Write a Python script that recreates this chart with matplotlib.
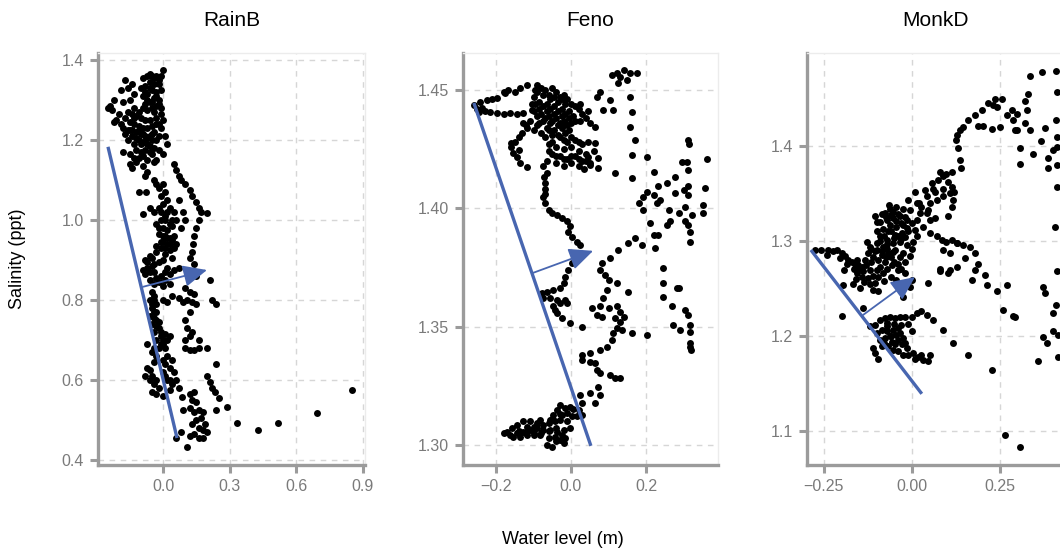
import matplotlib
matplotlib.use("Agg")
import matplotlib.pyplot as plt

plt.rcParams['font.family'] = ['Liberation Sans', 'DejaVu Sans']

# ---------------- data ----------------
panel_titles = ["RainB", "Feno", "MonkD"]

rainb_x_ticks = [0.0, 0.3, 0.6, 0.9]
rainb_x_labels = ["0.0", "0.3", "0.6", "0.9"]
rainb_y_ticks = [0.4, 0.6, 0.8, 1.0, 1.2, 1.4]
rainb_y_labels = ["0.4", "0.6", "0.8", "1.0", "1.2", "1.4"]

feno_x_ticks = [-0.2, 0.0, 0.2]
feno_x_labels = ["\u22120.2", "0.0", "0.2"]
feno_y_ticks = [1.30, 1.35, 1.40, 1.45]
feno_y_labels = ["1.30", "1.35", "1.40", "1.45"]

monkd_x_ticks = [-0.25, 0.0, 0.25]
monkd_x_labels = ["\u22120.25", "0.00", "0.25"]
monkd_y_ticks = [1.1, 1.2, 1.3, 1.4]
monkd_y_labels = ["1.1", "1.2", "1.3", "1.4"]

rainb_points = [
    (0.0,1.375),(-0.01,1.36),(-0.02,1.35),(-0.03,1.36),(-0.05,1.36),(-0.07,1.36),(-0.09,1.355),(-0.06,1.345),
    (-0.04,1.34),(-0.08,1.335),(-0.1,1.33),(-0.05,1.325),(-0.03,1.32),(-0.07,1.315),(-0.09,1.31),(-0.04,1.305),
    (-0.02,1.30),(-0.06,1.295),(-0.08,1.29),(-0.03,1.285),(-0.05,1.28),(-0.01,1.28),(-0.07,1.275),(-0.04,1.27),
    (-0.17,1.35),(-0.16,1.33),(-0.14,1.34),(-0.19,1.325),(-0.13,1.315),(-0.15,1.30),(-0.18,1.295),(-0.22,1.30),
    (-0.24,1.285),(-0.25,1.28),(-0.23,1.275),(-0.2,1.265),(-0.21,1.25),(-0.22,1.245),(-0.19,1.24),
    (-0.16,1.27),(-0.14,1.265),(-0.12,1.26),(-0.1,1.255),(-0.08,1.25),(-0.06,1.25),(-0.03,1.255),(-0.02,1.24),
    (-0.15,1.245),(-0.13,1.24),(-0.11,1.235),(-0.09,1.23),(-0.07,1.23),(-0.05,1.235),(-0.04,1.22),(-0.12,1.22),
    (-0.1,1.215),(-0.08,1.21),(-0.06,1.21),(-0.14,1.21),(-0.16,1.20),(-0.11,1.20),(-0.09,1.195),(-0.07,1.19),
    (-0.05,1.2),(-0.03,1.2),(0.01,1.21),(0.02,1.19),(-0.13,1.19),(-0.12,1.175),(-0.1,1.17),(-0.08,1.175),
    (-0.06,1.17),(-0.02,1.175),(0.0,1.165),(-0.15,1.165),(-0.11,1.155),(-0.07,1.15),(-0.04,1.145),(-0.18,1.17),
    (-0.15,1.14),(-0.14,1.13),(-0.09,1.135),(-0.07,1.12),(-0.08,1.11),
    (-0.06,1.365),(-0.04,1.355),(-0.02,1.34),(-0.01,1.325),(-0.08,1.32),(-0.06,1.33),(-0.03,1.31),(-0.05,1.295),
    (-0.07,1.30),(-0.02,1.29),(-0.09,1.28),(-0.11,1.27),(-0.13,1.28),(-0.17,1.255),(-0.18,1.23),(-0.16,1.225),
    (-0.14,1.225),(-0.12,1.205),(-0.1,1.19),(-0.08,1.195),(-0.06,1.185),(-0.04,1.18),(-0.02,1.21),(-0.01,1.23),
    (0.0,1.25),(-0.01,1.265),(-0.03,1.24),(-0.05,1.215),(-0.07,1.205),(-0.09,1.215),(-0.11,1.225),(-0.13,1.255),
    (-0.15,1.225),(-0.17,1.215),(-0.13,1.155),(-0.09,1.16),(-0.05,1.165),(-0.03,1.15),(-0.12,1.145),
    (-0.11,1.07),(-0.075,1.07),(-0.09,1.015),(-0.04,1.1),(-0.03,1.09),(-0.02,1.08),(0.0,1.09),(0.01,1.07),
    (-0.01,1.06),(0.02,1.05),(0.0,1.04),(0.03,1.03),(-0.02,1.03),(-0.04,1.02),(-0.06,1.03),(0.01,1.01),
    (0.04,1.0),(-0.01,1.0),(-0.03,0.99),(0.0,0.98),(0.02,0.975),(0.04,0.985),(0.06,1.0),(0.08,0.98),
    (-0.02,0.965),(0.01,0.96),(0.03,0.955),(0.0,0.945),(0.02,0.94),(-0.01,0.93),(0.03,0.925),(0.05,0.93),
    (-0.03,0.92),(-0.06,0.91),(-0.08,0.9),(0.01,0.915),(0.0,0.9),(0.04,0.905),(-0.02,0.895),(-0.05,0.885),
    (-0.07,0.88),(-0.09,0.875),(-0.04,0.87),(0.02,0.88),(0.05,0.875),(0.07,0.88),(-0.01,0.86),(0.01,0.85),
    (-0.06,0.85),(0.03,0.84),(0.0,0.835),
    (0.01,1.0),(0.03,0.99),(-0.02,0.98),(0.0,0.96),(0.02,0.955),(0.04,0.95),(-0.01,0.945),(0.01,0.93),
    (0.03,0.94),(-0.03,0.935),(-0.05,0.905),(-0.04,0.89),(-0.07,0.895),(-0.06,0.87),(-0.08,0.865),(-0.03,0.855),
    (0.01,0.87),(0.03,0.865),(-0.02,0.845),(-0.04,0.84),(0.05,0.96),(0.06,0.94),(-0.01,1.02),(0.02,1.02),(0.05,1.02),
    (0.05,1.14),(0.06,1.125),(0.07,1.11),(0.08,1.1),(0.1,1.09),(0.12,1.075),(0.13,1.06),(0.15,1.045),
    (0.16,1.03),(0.17,1.02),(0.197,1.017),(0.16,1.0),(0.15,0.98),(0.14,0.96),(0.135,0.94),(0.13,0.92),
    (0.12,0.905),(0.14,0.89),(0.09,1.02),(0.1,1.0),(0.07,1.05),
    (-0.05,0.82),(-0.04,0.81),(-0.06,0.8),(-0.03,0.79),(-0.05,0.78),(-0.04,0.77),(-0.06,0.76),(-0.03,0.75),
    (-0.05,0.74),(-0.02,0.73),(-0.04,0.72),(-0.01,0.71),(-0.03,0.7),(0.0,0.69),(-0.02,0.68),(0.02,0.7),
    (0.03,0.71),(-0.07,0.69),(-0.05,0.67),(-0.03,0.66),(0.0,0.65),(0.02,0.66),(0.04,0.65),(0.01,0.64),
    (-0.04,0.645),(-0.07,0.63),(0.03,0.63),(0.05,0.62),(0.0,0.62),(-0.08,0.61),(-0.06,0.6),(-0.04,0.59),
    (-0.02,0.58),(-0.05,0.57),(-0.03,0.565),(0.02,0.6),(0.04,0.59),(0.06,0.6),(0.07,0.58),(0.03,0.575),
    (0.0,0.56),(0.0,0.8),(0.02,0.795),(0.04,0.81),
    (-0.04,0.80),(-0.05,0.79),(-0.03,0.77),(-0.04,0.755),(-0.02,0.745),(-0.03,0.735),(-0.01,0.72),(0.01,0.715),
    (0.0,0.7),(-0.01,0.69),(0.01,0.68),(-0.04,0.68),(-0.06,0.625),(-0.05,0.61),(-0.03,0.6),(0.01,0.61),(0.03,0.6),
    (0.1,0.83),(0.12,0.82),(0.14,0.815),(0.11,0.80),(0.13,0.795),(0.15,0.79),(0.12,0.77),(0.1,0.75),
    (0.11,0.73),(0.12,0.71),(0.1,0.7),(0.13,0.72),(0.16,0.7),(0.21,0.85),(0.22,0.8),(0.24,0.79),
    (0.1,0.68),(0.12,0.675),(0.14,0.675),(0.16,0.68),(0.2,0.68),(0.24,0.64),(0.2,0.61),(0.21,0.595),
    (0.22,0.58),(0.235,0.57),(0.25,0.555),(0.24,0.525),(0.287,0.533),(0.15,0.86),(0.07,0.805),(0.09,0.795),
    (0.084,0.558),(0.09,0.525),(0.12,0.565),(0.14,0.57),(0.13,0.55),(0.15,0.545),(0.12,0.53),(0.14,0.52),
    (0.16,0.525),(0.18,0.52),(0.17,0.505),(0.15,0.5),(0.13,0.49),(0.16,0.48),(0.18,0.475),(0.2,0.47),
    (0.14,0.465),(0.16,0.455),(0.18,0.455),(0.12,0.46),(0.107,0.433),(0.06,0.455),(0.08,0.47),(0.19,0.49),
    (0.335,0.493),(0.426,0.475),(0.52,0.493),(0.695,0.518),(0.853,0.575),
]

feno_points = [
    (-0.029,1.3169),(-0.016,1.3155),(-0.038,1.3148),(-0.047,1.3127),(-0.025,1.3127),(-0.012,1.3134),(0.002,1.312),
    (0.015,1.312),(-0.056,1.3106),(-0.043,1.3099),(-0.029,1.3106),(-0.06,1.3092),(-0.074,1.3085),(-0.092,1.3092),
    (-0.109,1.3099),(-0.127,1.3099),(-0.145,1.3085),(-0.158,1.307),(-0.172,1.3056),(-0.18,1.3049),(-0.163,1.3042),
    (-0.145,1.3049),(-0.127,1.3056),(-0.109,1.3063),(-0.092,1.307),(-0.074,1.3063),(-0.056,1.3063),(-0.038,1.3056),
    (-0.02,1.3063),(-0.003,1.307),(-0.025,1.3042),(-0.043,1.3035),(-0.06,1.3028),(-0.065,1.30),(-0.052,1.2993),
    (-0.029,1.3021),(-0.016,1.3028),(-0.136,1.3035),(-0.118,1.3042),(-0.1,1.3049),(-0.083,1.3042),(-0.154,1.3035),
    (-0.1,1.3077),(-0.118,1.3077),(-0.083,1.3106),
    (-0.14,1.306),(-0.12,1.305),(-0.1,1.304),(-0.08,1.305),(-0.06,1.306),(-0.04,1.307),(-0.05,1.311),(-0.03,1.313),
    (-0.01,1.31),(0.005,1.315),(-0.02,1.301),(-0.04,1.3015),
    (-0.003,1.3162),(0.02,1.3148),(0.028,1.3127),(0.028,1.3176),(0.024,1.3211),
    (-0.1,1.447),(-0.09,1.449),(-0.08,1.451),(-0.07,1.45),(-0.06,1.448),(-0.05,1.451),(-0.04,1.449),(-0.03,1.447),
    (-0.02,1.448),(-0.01,1.446),(0.0,1.444),(0.01,1.443),(-0.095,1.444),(-0.085,1.445),(-0.075,1.443),(-0.065,1.444),
    (-0.055,1.442),(-0.045,1.443),(-0.035,1.441),(-0.025,1.442),(-0.015,1.44),(-0.005,1.441),(0.005,1.439),
    (-0.1,1.441),(-0.09,1.439),(-0.08,1.44),(-0.07,1.438),(-0.06,1.439),(-0.05,1.437),(-0.04,1.438),(-0.03,1.436),
    (-0.02,1.437),(-0.01,1.435),(0.0,1.436),(-0.11,1.437),(-0.085,1.436),(-0.065,1.434),(-0.045,1.433),
    (-0.025,1.434),(-0.005,1.433),(-0.12,1.435),(-0.1,1.433),(-0.08,1.432),(-0.035,1.431),(-0.015,1.432),
    (-0.095,1.45),(-0.075,1.448),(-0.055,1.446),(-0.035,1.445),(-0.015,1.444),(-0.045,1.447),(-0.025,1.446),
    (-0.065,1.441),(-0.085,1.442),(-0.105,1.444),(-0.075,1.437),(-0.055,1.436),(-0.035,1.435),(-0.015,1.436),
    (-0.045,1.44),(-0.025,1.439),(-0.005,1.438),(0.01,1.437),(-0.09,1.435),(-0.06,1.433),
    (0.02,1.442),(0.03,1.44),(0.025,1.437),
    (-0.259,1.4437),(-0.243,1.445),(-0.225,1.4458),(-0.198,1.4465),(-0.176,1.4486),(-0.167,1.45),(-0.149,1.4493),
    (-0.118,1.4521),(-0.092,1.4521),(-0.135,1.451),(-0.18,1.449),(-0.21,1.446),(-0.238,1.4423),(-0.216,1.4408),
    (-0.198,1.4401),(-0.18,1.4399),(-0.163,1.4401),(-0.145,1.4399),(-0.127,1.4404),(-0.105,1.4415),(-0.25,1.442),
    (-0.245,1.4405),(-0.23,1.441),
    (-0.127,1.436),(-0.118,1.434),(-0.13,1.432),(-0.14,1.430),(-0.16,1.4275),(-0.159,1.426),(-0.154,1.4232),
    (-0.145,1.4218),(-0.136,1.419),(-0.118,1.4176),(-0.14,1.4246),(-0.15,1.428),
    (-0.07,1.43),(-0.05,1.431),(-0.03,1.43),(-0.01,1.428),(0.01,1.429),(0.03,1.427),(0.045,1.428),(-0.06,1.427),
    (-0.04,1.426),(-0.02,1.425),(0.0,1.426),(0.02,1.424),(0.04,1.423),(-0.05,1.423),(-0.03,1.422),(-0.01,1.421),
    (0.01,1.422),(0.03,1.42),(0.05,1.419),(-0.04,1.419),(-0.02,1.418),(0.0,1.419),(0.02,1.418),(-0.065,1.42),
    (-0.075,1.418),(0.035,1.4165),
    (-0.06,1.424),(-0.04,1.422),(-0.02,1.421),(0.0,1.422),(0.02,1.421),(0.04,1.42),(-0.05,1.428),(-0.02,1.429),
    (0.0,1.43),(0.02,1.428),(0.06,1.424),(0.045,1.4215),
    (0.024,1.444),(0.04,1.438),(0.05,1.436),(0.065,1.4345),(0.045,1.441),
    (0.077,1.4493),(0.104,1.4458),(0.068,1.4472),(0.086,1.4415),(0.113,1.4415),
    (0.108,1.4563),(0.122,1.457),(0.14,1.4585),(0.157,1.457),(0.175,1.457),(0.126,1.4528),(0.148,1.4542),(0.13,1.4555),
    (0.157,1.447),(0.162,1.4408),(0.157,1.4345),(0.171,1.4289),(0.162,1.4225),(0.162,1.4127),(0.117,1.4148),
    (0.073,1.4211),(0.073,1.4169),(0.064,1.4275),(0.05,1.4183),
    (-0.065,1.4148),(-0.069,1.4106),(-0.07,1.408),(-0.074,1.4049),(-0.069,1.4021),(-0.06,1.3993),(-0.051,1.3979),
    (-0.038,1.3972),(-0.025,1.3958),(-0.012,1.3944),(-0.003,1.3923),(-0.007,1.3901),(0.002,1.388),(0.015,1.3859),
    (0.024,1.3845),(-0.072,1.413),(-0.07,1.406),
    (0.011,1.3803),(0.002,1.3768),(-0.007,1.374),(-0.016,1.3711),(-0.02,1.3683),(-0.029,1.3662),(-0.047,1.3655),
    (-0.065,1.3648),(-0.078,1.3641),(-0.074,1.362),(-0.056,1.362),(-0.038,1.3613),(-0.016,1.3613),(-0.047,1.3585),
    (-0.038,1.3556),(-0.025,1.3535),(-0.003,1.3514),(0.028,1.35),(-0.012,1.3599),(-0.043,1.3571),(-0.029,1.3599),
    (0.082,1.3768),(0.104,1.3789),(0.126,1.3824),(0.153,1.3852),(0.171,1.3873),(0.188,1.3845),(0.077,1.374),
    (0.09,1.372),(0.1,1.3697),(0.122,1.3683),(0.095,1.3655),(0.086,1.362),(0.077,1.3585),(0.055,1.3577),
    (0.068,1.3549),(0.082,1.3542),(0.1,1.3577),(0.122,1.3585),(0.131,1.3563),(0.14,1.3542),(0.131,1.3521),
    (0.122,1.3493),(0.113,1.3472),(0.108,1.3444),(0.095,1.3415),(0.077,1.3401),(0.153,1.3648),(0.162,1.3472),
    (0.202,1.3465),(0.117,1.3535),(0.135,1.3486),
    (0.028,1.338),(0.028,1.3359),(0.051,1.3387),(0.051,1.3352),(0.064,1.3345),(0.068,1.3317),(0.077,1.3303),
    (0.104,1.3296),(0.117,1.3282),(0.131,1.3282),(0.073,1.3246),(0.051,1.3218),(0.077,1.3211),(0.064,1.3176),
    (0.313,1.4289),(0.315,1.427),(0.362,1.4207),(0.295,1.4194),(0.308,1.4197),(0.313,1.4162),(0.277,1.4134),
    (0.255,1.4106),(0.233,1.4092),(0.22,1.4155),(0.202,1.4218),(0.358,1.4085),(0.313,1.4092),(0.3,1.4077),
    (0.313,1.4056),(0.277,1.4063),(0.202,1.407),(0.193,1.4049),(0.18,1.4021),(0.193,1.3993),(0.22,1.4056),
    (0.238,1.4035),(0.229,1.4021),(0.26,1.3993),(0.287,1.3979),(0.304,1.4007),(0.322,1.3972),(0.353,1.3979),
    (0.353,1.4014),(0.304,1.3944),(0.265,1.3944),(0.256,1.393),(0.211,1.3937),(0.22,1.3887),(0.233,1.3887),
    (0.224,1.3831),(0.313,1.393),(0.316,1.3901),(0.316,1.3859),
    (0.246,1.3746),(0.244,1.3683),(0.246,1.3627),(0.282,1.3662),(0.288,1.3662),(0.268,1.3585),(0.272,1.3507),
    (0.291,1.3486),(0.304,1.357),(0.313,1.3549),(0.317,1.3507),(0.317,1.3479),(0.317,1.343),(0.319,1.3401),
    (0.318,1.3415),
]

monkd_points = [
    (-0.276,1.291),(-0.257,1.291),(-0.238,1.291),(-0.242,1.285),(-0.214,1.29),(-0.2,1.287),(-0.19,1.284),
    (-0.181,1.28),(-0.171,1.278),(-0.162,1.276),(-0.152,1.275),(-0.143,1.273),(-0.193,1.269),(-0.195,1.254),
    (-0.2,1.221),(-0.138,1.229),(-0.225,1.289),(-0.205,1.282),(-0.185,1.276),(-0.165,1.27),
    (-0.105,1.326),(-0.1,1.32),(-0.077,1.329),(-0.063,1.334),(-0.044,1.336),(-0.025,1.334),(-0.006,1.333),
    (-0.072,1.322),(-0.053,1.324),(-0.034,1.326),(-0.015,1.322),(-0.063,1.317),(-0.044,1.315),(-0.025,1.317),
    (-0.001,1.319),(-0.081,1.313),(-0.067,1.31),(-0.048,1.306),(-0.029,1.308),(-0.01,1.31),(0.009,1.312),
    (0.013,1.305),(-0.072,1.301),(-0.053,1.298),(-0.034,1.299),(-0.015,1.296),(0.004,1.299),(-0.091,1.305),
    (-0.129,1.299),(-0.119,1.294),(-0.1,1.298),(-0.081,1.294),(-0.124,1.287),(-0.105,1.289),(-0.086,1.285),
    (-0.067,1.287),(-0.048,1.291),(-0.025,1.287),(-0.006,1.284),(-0.134,1.28),(-0.115,1.278),(-0.096,1.28),
    (-0.077,1.278),(-0.058,1.275),(-0.039,1.269),(-0.02,1.266),(-0.1,1.269),(-0.081,1.266),(-0.119,1.269),
    (-0.157,1.266),(-0.143,1.262),(-0.124,1.261),(-0.167,1.255),(-0.148,1.25),(-0.11,1.248),(-0.096,1.247),
    (-0.044,1.259),(-0.029,1.252),(-0.025,1.241),(-0.006,1.252),(-0.001,1.259),
    (-0.09,1.32),(-0.085,1.328),(-0.055,1.33),(-0.04,1.328),(-0.02,1.325),(-0.06,1.31),(-0.04,1.305),
    (-0.08,1.305),(-0.1,1.29),(-0.09,1.3),(-0.07,1.292),(-0.055,1.288),(-0.035,1.283),(-0.11,1.283),
    (-0.13,1.275),(-0.09,1.273),(-0.07,1.27),(-0.05,1.278),(-0.03,1.27),(-0.14,1.268),(-0.11,1.263),
    (-0.06,1.262),(-0.105,1.256),(-0.16,1.26),(0.02,1.34),(-0.01,1.343),
    (-0.075,1.325),(-0.06,1.327),(-0.045,1.321),(-0.03,1.319),(-0.015,1.314),(-0.05,1.303),(-0.03,1.302),
    (-0.07,1.297),(-0.085,1.289),(-0.06,1.283),(-0.04,1.276),(-0.02,1.278),(-0.075,1.283),(-0.095,1.262),
    (-0.12,1.255),(-0.08,1.258),(-0.135,1.257),(-0.15,1.27),(-0.155,1.28),(-0.115,1.292),(-0.1,1.31),
    (-0.02,1.304),(0.0,1.292),(-0.065,1.338),
    (0.009,1.352),(0.037,1.354),(0.042,1.347),(0.013,1.34),(0.027,1.336),(0.051,1.34),(0.07,1.343),(0.056,1.361),
    (0.075,1.364),(0.089,1.368),(0.08,1.373),(0.098,1.371),(0.113,1.373),(0.103,1.362),(0.108,1.35),
    (0.117,1.343),(0.089,1.347),(0.065,1.352),(0.042,1.329),(0.051,1.322),(0.065,1.324),(0.032,1.315),
    (0.051,1.308),(0.07,1.305),(0.084,1.301),(0.098,1.299),(0.113,1.301),(0.127,1.298),(0.046,1.333),
    (0.023,1.329),(0.013,1.322),
    (0.127,1.412),(0.136,1.417),(0.146,1.42),(0.16,1.427),(0.179,1.433),(0.198,1.438),(0.217,1.445),
    (0.231,1.443),(0.241,1.441),(0.255,1.45),(0.236,1.45),(0.269,1.433),(0.283,1.438),(0.297,1.434),
    (0.288,1.427),(0.297,1.417),(0.321,1.424),(0.335,1.417),(0.326,1.438),(0.321,1.447),(0.329,1.455),
    (0.335,1.474),(0.368,1.478),(0.409,1.479),(0.411,1.457),(0.409,1.427),(0.411,1.41),(0.413,1.399),
    (0.402,1.396),(0.387,1.387),(0.387,1.377),(0.411,1.38),(0.411,1.357),(0.406,1.315),(0.411,1.268),
    (0.373,1.252),(0.378,1.245),(0.409,1.233),(0.402,1.224),(0.402,1.205),(0.416,1.201),(0.371,1.199),
    (0.384,1.192),(0.359,1.174),(0.416,1.178),(0.307,1.398),(0.307,1.381),(0.343,1.392),(0.366,1.405),
    (0.378,1.419),(0.293,1.417),(0.25,1.42),(0.226,1.418),(0.203,1.421),(0.188,1.421),(0.125,1.406),
    (0.132,1.398),(0.136,1.385),(0.138,1.377),(0.113,1.336),(0.103,1.326),(0.119,1.352),(0.113,1.357),
    (0.089,1.355),(0.061,1.355),
    (0.089,1.291),(0.108,1.287),(0.127,1.298),(0.146,1.296),(0.165,1.294),(0.179,1.287),(0.188,1.276),
    (0.179,1.269),(0.151,1.282),(0.127,1.273),(0.108,1.269),(0.08,1.268),(0.103,1.266),(0.17,1.259),
    (0.207,1.264),(0.212,1.254),(0.241,1.247),(0.269,1.254),(0.259,1.227),(0.293,1.22),(0.288,1.221),
    (0.089,1.206),(0.116,1.192),(0.16,1.18),(0.226,1.164),(0.264,1.096),(0.307,1.083),(0.046,1.256),
    (0.061,1.217),(0.081,1.27),
    (-0.119,1.21),(-0.105,1.212),(-0.091,1.217),(-0.077,1.219),(-0.063,1.22),(-0.048,1.219),(-0.034,1.22),
    (-0.02,1.22),(-0.001,1.22),(0.013,1.224),(0.027,1.226),(0.042,1.222),(-0.1,1.203),(-0.086,1.206),
    (-0.072,1.205),(-0.053,1.206),(-0.034,1.203),(-0.025,1.198),(-0.039,1.196),(-0.058,1.194),(-0.077,1.198),
    (-0.091,1.196),(-0.067,1.189),(-0.053,1.185),(-0.039,1.184),(-0.025,1.18),(-0.01,1.18),(0.004,1.182),
    (0.018,1.178),(0.032,1.175),(0.046,1.174),(0.051,1.18),(-0.029,1.191),(-0.02,1.192),(-0.105,1.182),
    (-0.096,1.176),(-0.086,1.189),(-0.063,1.2),(-0.044,1.201),(-0.048,1.191),(-0.072,1.214),(-0.11,1.187),
    (-0.07,1.21),(-0.05,1.213),(-0.03,1.212),(-0.01,1.213),(0.0,1.205),(-0.015,1.187),(0.01,1.176),
    (0.025,1.18),(-0.08,1.192),(-0.06,1.2),(-0.04,1.208),
]

# fitted line (start, end) and arrow (start, tip) for each panel
rainb_line = [(-0.248, 1.183), (0.063, 0.455)]
rainb_arrow = [(-0.09, 0.833), (0.198, 0.875)]
feno_line = [(-0.259, 1.4445), (0.053, 1.2996)]
feno_arrow = [(-0.101, 1.3727), (0.059, 1.382)]
monkd_line = [(-0.287, 1.2905), (0.028, 1.139)]
monkd_arrow = [(-0.139, 1.222), (0.0085, 1.262)]

# ---------------- layout ----------------
W, H = 1060, 552
fig = plt.figure(figsize=(W / 100, H / 100), dpi=100)

panel_px = [(98, 365), (463, 718), (807, 1063)]
top_px, bot_px = 53, 465

xlims = [(-0.293, 0.91), (-0.288, 0.392), (-0.298, 0.429)]
ylims = [(0.3875, 1.4175), (1.2915, 1.4656), (1.064, 1.498)]

BLUE = '#4866b0'
SPINE = '#9b9b9b'
GRID = '#d6d6d6'
TICKLBL = '#7a7a7a'

panels = [
    (rainb_points, rainb_line, rainb_arrow, rainb_x_ticks, rainb_x_labels, rainb_y_ticks, rainb_y_labels),
    (feno_points, feno_line, feno_arrow, feno_x_ticks, feno_x_labels, feno_y_ticks, feno_y_labels),
    (monkd_points, monkd_line, monkd_arrow, monkd_x_ticks, monkd_x_labels, monkd_y_ticks, monkd_y_labels),
]

for i, (pts, line, arrow, xt, xl, yt, yl) in enumerate(panels):
    l, r = panel_px[i]
    ax = fig.add_axes([l / W, (H - bot_px) / H, (r - l) / W, (bot_px - top_px) / H])
    ax.set_xlim(*xlims[i])
    ax.set_ylim(*ylims[i])
    ax.set_xticks(xt)
    ax.set_xticklabels(xl)
    ax.set_yticks(yt)
    ax.set_yticklabels(yl)
    ax.grid(True, color=GRID, linestyle=(0, (4, 4)), linewidth=1.0, zorder=0)
    ax.set_axisbelow(True)
    for s in ['top', 'right']:
        ax.spines[s].set_color('#ececec')
        ax.spines[s].set_linewidth(1.0)
    for s in ['left', 'bottom']:
        ax.spines[s].set_color(SPINE)
        ax.spines[s].set_linewidth(2.4)
    ax.tick_params(axis='both', colors=SPINE, width=2.2, length=6, labelcolor=TICKLBL,
                   labelsize=11.5, pad=4)

    xs = [p[0] for p in pts]
    ys = [p[1] for p in pts]
    ax.scatter(xs, ys, s=25, color='black', linewidths=0, zorder=3, clip_on=True)

    ax.plot([line[0][0], line[1][0]], [line[0][1], line[1][1]], color=BLUE, lw=2.4,
            solid_capstyle='butt', zorder=4)
    ax.annotate('', xy=arrow[1], xytext=arrow[0],
                arrowprops=dict(arrowstyle='-|>,head_length=0.7,head_width=0.32',
                                mutation_scale=21, color=BLUE, lw=1.3,
                                shrinkA=0, shrinkB=0),
                zorder=5)

    fig.text(((l + min(r, W + 3)) / 2) / W, 1 - 20 / H, panel_titles[i], ha='center', va='center',
             fontsize=15, color='black')

fig.text(18 / W, 1 - 259 / H, 'Salinity (ppt)', rotation=90, ha='center', va='center',
         fontsize=13, color='black')
fig.text(563 / W, 1 - 539 / H, 'Water level (m)', ha='center', va='center',
         fontsize=13, color='black')

fig.savefig('out.png', dpi=100)
